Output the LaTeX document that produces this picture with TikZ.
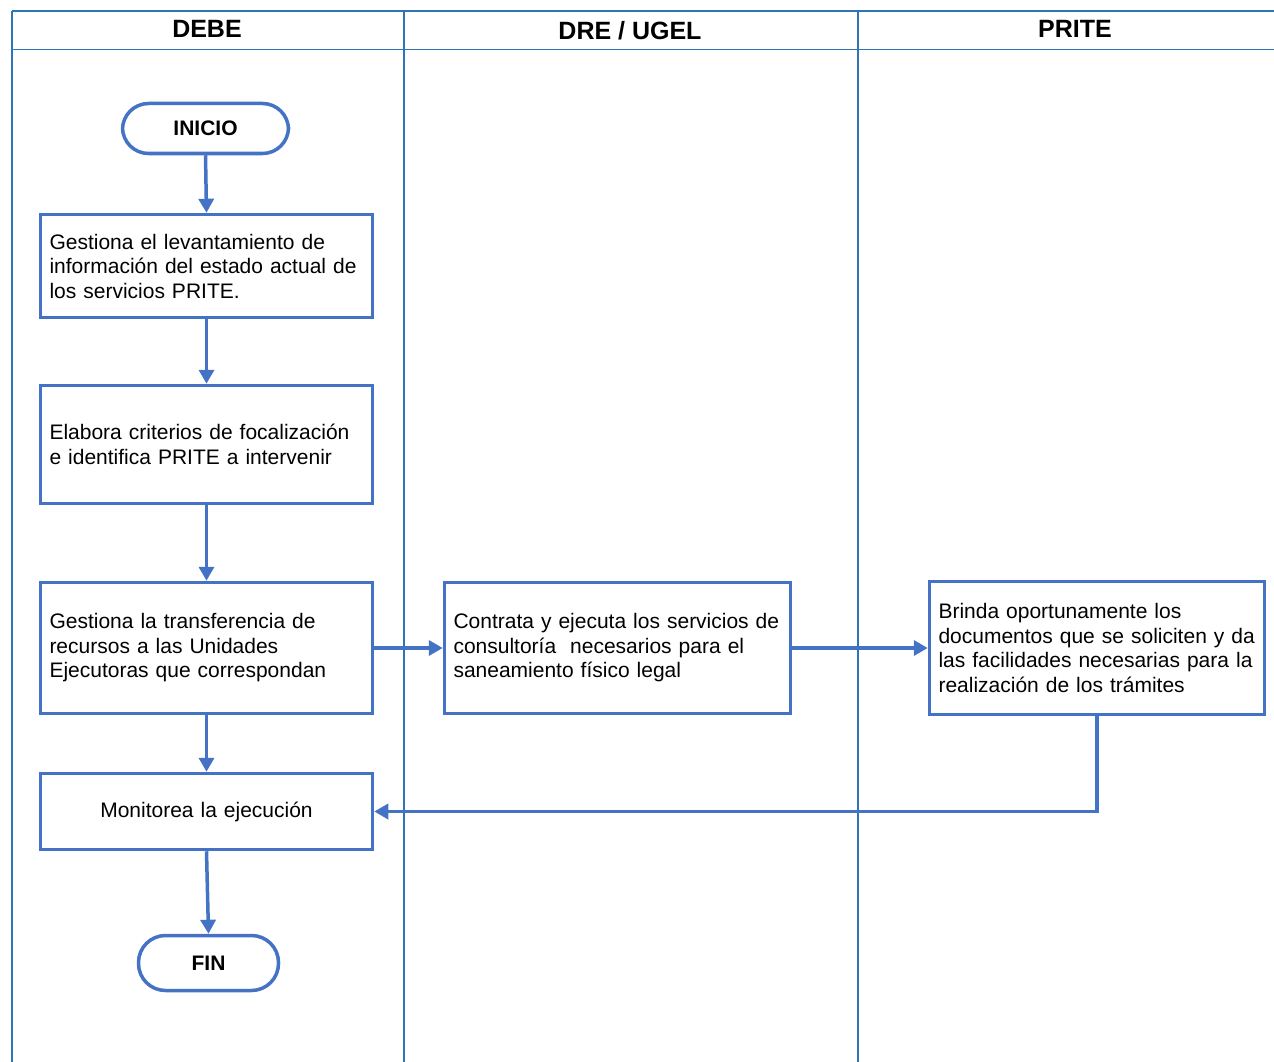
\documentclass[tikz,border=0pt]{standalone}
\usepackage{fontspec}
\setmainfont{Liberation Sans}
\usetikzlibrary{arrows.meta}
\definecolor{boxblue}{HTML}{4472C4}
\definecolor{lanblue}{HTML}{2E75B6}
\begin{document}
\begin{tikzpicture}[x=1pt,y=-1pt,
  lane/.style={draw=lanblue,line width=1.8pt},
  procbox/.style={draw=boxblue,line width=3.5pt,fill=white,inner xsep=9pt,inner ysep=0pt,
     font=\fontsize{21}{24.5}\selectfont,align=left},
  termbox/.style={draw=boxblue,line width=3.5pt,fill=white,rounded corners=26pt,inner sep=0pt,
     font=\fontsize{21}{24.5}\selectfont\bfseries},
  lanetitle/.style={font=\fontsize{25}{28}\selectfont\bfseries,inner sep=0pt},
  flow/.style={draw=boxblue,line width=3.5pt,-{Triangle[length=14pt,width=15pt]}}
]
\useasboundingbox (0,0) rectangle (1274,1062);
% lanes
\draw[lane] (12,11) -- (1274,11);
\draw[lane] (12,49.5) -- (1274,49.5);
\draw[lane] (12,11) -- (12,1062);
\draw[lane] (404,11) -- (404,1062);
\draw[lane] (858,11) -- (858,1062);
\node[lanetitle] (t1) at (207,29) {DEBE};
\node[lanetitle] (t2) at (630,31) {DRE / UGEL};
\node[lanetitle] (t3) at (1075,29) {PRITE};
% nodes
\node[termbox,minimum width=166pt,minimum height=50pt] (inicio) at (205.5,128.5) {INICIO};
\node[procbox,text width=314pt,minimum height=103pt] (b1) at (206.5,266)
  {Gestiona el levantamiento de\\información del estado actual de\\los servicios PRITE.};
\node[procbox,text width=314pt,minimum height=118pt] (b2) at (206.5,444.5)
  {Elabora criterios de focalización\\e identifica PRITE a intervenir};
\node[procbox,text width=314pt,minimum height=131pt] (b3) at (206.5,648)
  {Gestiona la transferencia de\\recursos a las Unidades\\Ejecutoras que correspondan};
\node[procbox,text width=314pt,minimum height=76pt,align=center] (b4) at (206.5,811.5)
  {Monitorea la ejecución};
\node[termbox,minimum width=140pt,minimum height=55pt,rounded corners=27pt] (fin) at (208.5,963) {FIN};
\node[procbox,text width=328pt,minimum height=131pt] (d1) at (617.5,648)
  {Contrata y ejecuta los servicios de\\consultoría \ necesarios para el\\saneamiento físico legal};
\node[procbox,text width=317pt,minimum height=133pt] (p1) at (1097,648)
  {\makebox[0pt][l]{Brinda oportunamente los}\\\makebox[0pt][l]{documentos que se soliciten y da}\\\makebox[0pt][l]{las facilidades necesarias para la}\\\makebox[0pt][l]{realización de los trámites}};
% connectors
\draw[flow] (inicio.south) -- (b1.north);
\draw[flow] (b1) -- (b2);
\draw[flow] (b2) -- (b3);
\draw[flow] (b3) -- (b4);
\draw[flow] (b4.south) -- (fin.north);
\draw[flow] (b3) -- (d1);
\draw[flow] (d1) -- (p1);
\draw[flow] (p1.south) |- (b4.east);
\end{tikzpicture}
\end{document}
